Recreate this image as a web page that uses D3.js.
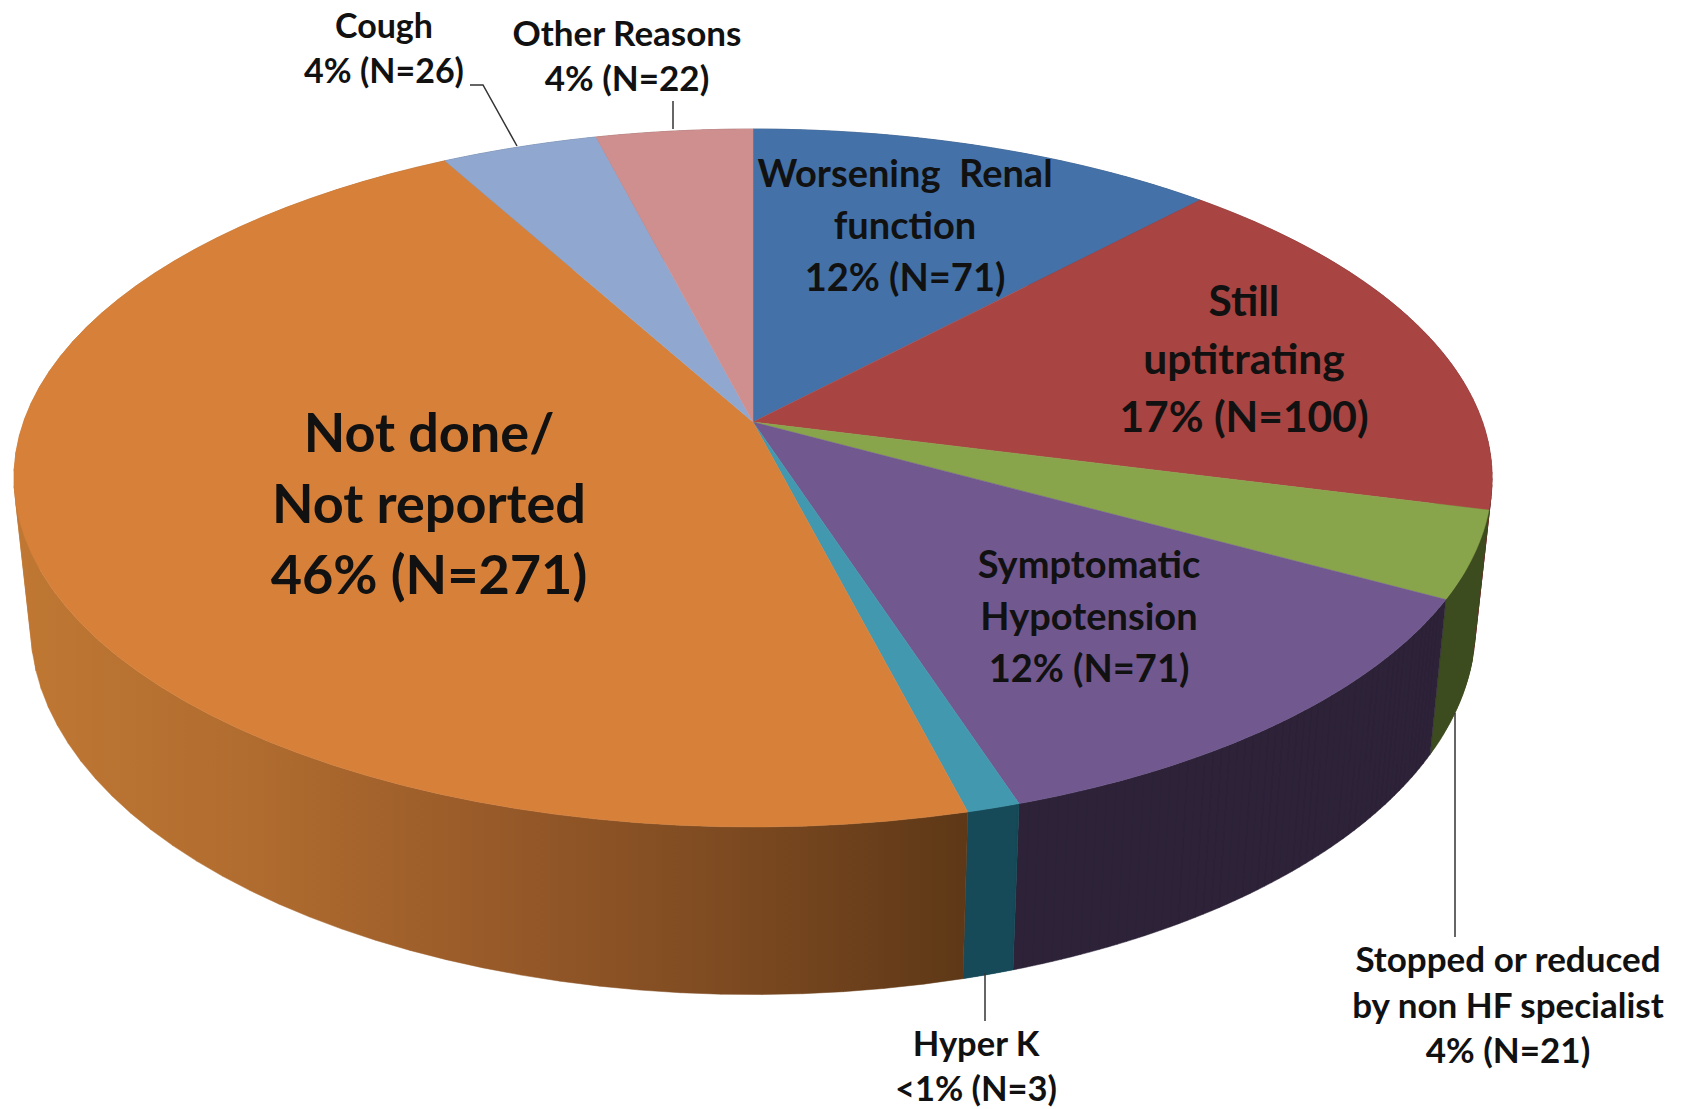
<!DOCTYPE html>
<html><head><meta charset="utf-8">
<script src="https://cdn.jsdelivr.net/npm/d3@7/dist/d3.min.js"></script>
<style>html,body{margin:0;padding:0;background:#fff;overflow:hidden}svg{display:block}text{white-space:pre}</style>
</head><body><svg id="c" width="1682" height="1109"></svg>
<script>
// Data
const categories = [["Worsening  Renal","function"],["Still","uptitrating"],["Stopped or reduced","by non HF specialist"],["Symptomatic","Hypotension"],["Hyper K"],["Not done/","Not reported"],["Cough"],["Other Reasons"]];
const shares = [12,17,4,12,1,46,4,4];
const shareLabels = ["12%","17%","4%","12%","<1%","46%","4%","4%"];
const counts = [71,100,21,71,3,271,26,22];
// Styling
const topColors = ["#4472A8","#A84442","#89A54C","#71588F","#4198AF","#D6803A","#90A8D0","#CF8F8F"];
const wallColors = ["#2f4a6e","#702e2c","#3c4c1e","#2d2238","#174a58","url(#orangeWall)","#5f7087","#8a6160"];
const labelX = [905,1244,1508,1089,976,429,384,627];
const labelY = [187,316,972,578,1056,452,38,46];
const labelSize = [38,42.5,35,38,34.5,54,34,35];
const labelLead = [52,58,45.5,52,45,71,45,45];
const leaders = [[[470,85],[483,85],[517,146]],[[673,101],[673,129]],[[985,973],[985,1021]],[[1455,713],[1455,937]]];

const svg = d3.select("#c");
const defs = svg.append("defs");
const grad = defs.append("linearGradient").attr("id","orangeWall").attr("gradientUnits","userSpaceOnUse")
  .attr("x1",20).attr("x2",965).attr("y1",0).attr("y2",0);
[[0,"#bf7733"],[0.25,"#b06c2f"],[0.5,"#985a29"],[0.75,"#7d4a21"],[1,"#5e3817"]].forEach(s=>grad.append("stop").attr("offset",s[0]).attr("stop-color",s[1]));

const cx=753;
const project=(p)=>a=>{const d=1+p.k*Math.cos(a);return [cx+p.a*Math.sin(a)/d,p.cy-p.b*Math.cos(a)/d];};
const topFace=project({a:729.5,b:340,k:0.1605,cy:422});
const botFace=project({a:713,b:359,k:0.1604,cy:567});
const arcs=d3.pie().sort(null)(shares);
const line=d3.line();
const steps=(s,e)=>d3.range(0,61).map(i=>s+(e-s)*i/60);

// Each wall is a run of small quads, all wound the same way so the fold at the silhouette stays filled.
const wallPath=d=>{
  const t=steps(d.startAngle,d.endAngle);
  return d3.pairs(t).map(([u,v])=>{
    const q=[topFace(u),topFace(v),botFace(v),botFace(u)];
    if(d3.polygonArea(q)<0) q.reverse();
    return line(q)+"Z";
  }).join("");
};
svg.append("g").selectAll("path").data(arcs).join("path")
  .attr("d",wallPath)
  .attr("fill",(d,i)=>wallColors[i]).attr("stroke",(d,i)=>wallColors[i]).attr("stroke-width",0.5);
// top
svg.append("g").selectAll("path").data(arcs).join("path")
  .attr("d",d=>line([[cx,422]].concat(steps(d.startAngle,d.endAngle).map(topFace)))+"Z")
  .attr("fill",(d,i)=>topColors[i]).attr("stroke",(d,i)=>topColors[i]).attr("stroke-width",0.5);
// leaders
svg.append("g").selectAll("path").data(leaders).join("path").attr("d",d=>line(d)).attr("fill","none").attr("stroke","#333").attr("stroke-width",1.5);
// labels
const g=svg.append("g").attr("font-family","Lato, 'Open Sans', sans-serif").attr("font-weight",700).attr("fill","#111").attr("text-anchor","middle");
categories.forEach((c,i)=>{
  const t=g.append("text").attr("font-size",labelSize[i]);
  c.concat([`${shareLabels[i]} (N=${counts[i]})`]).forEach((s,j)=>t.append("tspan").attr("x",labelX[i]).attr("y",labelY[i]+j*labelLead[i]).text(s));
});
</script></body></html>
